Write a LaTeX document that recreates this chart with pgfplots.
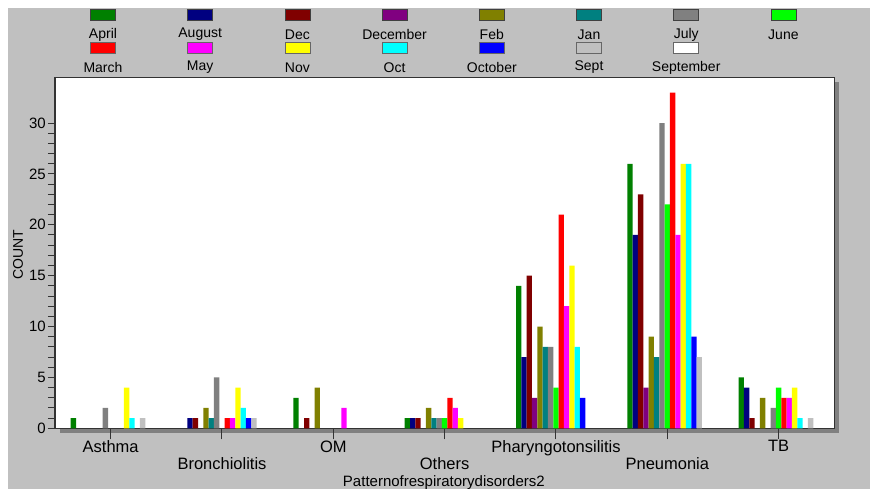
\documentclass[border=0pt]{standalone}
\usepackage{pgfplots}
\pgfplotsset{compat=1.18}
\usepackage{pgfplotstable}
\usepackage{fontspec}
\setmainfont{Liberation Sans}
\definecolor{bg}{HTML}{C0C0C0}
\definecolor{shadowc}{HTML}{808080}
\definecolor{frame}{HTML}{333333}
\definecolor{cApril}{HTML}{008000}
\definecolor{cAugust}{HTML}{000080}
\definecolor{cDec}{HTML}{800000}
\definecolor{cDecember}{HTML}{800080}
\definecolor{cFeb}{HTML}{808000}
\definecolor{cJan}{HTML}{008080}
\definecolor{cJuly}{HTML}{808080}
\definecolor{cJune}{HTML}{00FF00}
\definecolor{cMarch}{HTML}{FF0000}
\definecolor{cMay}{HTML}{FF00FF}
\definecolor{cNov}{HTML}{FFFF00}
\definecolor{cOct}{HTML}{00FFFF}
\definecolor{cOctober}{HTML}{0000FF}
\definecolor{cSept}{HTML}{C0C0C0}
\definecolor{cSeptember}{HTML}{FFFFFF}

\pgfplotstableread{
x April August Dec December Feb Jan July June March May Nov Oct October Sept September
0 1 0 0 0 0 0 2 0 0 0 4 1 0 1 0
1 0 1 1 0 2 1 5 0 1 1 4 2 1 1 0
2 3 0 1 0 4 0 0 0 0 2 0 0 0 0 0
3 1 1 1 0 2 1 1 1 3 2 1 0 0 0 0
4 14 7 15 3 10 8 8 4 21 12 16 8 3 0 0
5 26 19 23 4 9 7 30 22 33 19 26 26 9 7 0
6 5 4 1 0 3 0 2 4 3 3 4 1 0 1 0
}\datatable

\begin{document}
\begin{tikzpicture}
\useasboundingbox (0pt,0pt) rectangle (870pt,489pt);
\fill[bg] (8pt,0pt) rectangle (870pt,481pt);
\fill[shadowc] (60pt,56pt) rectangle (839.3pt,407pt);
\begin{axis}[
  at={(55pt,60.7pt)}, anchor=south west,
  scale only axis, width=779.3pt, height=351pt,
  axis background/.style={fill=white},
  axis line style={draw=frame, line width=1.2pt},
  xmin=-0.5, xmax=6.5, ymin=0, ymax=34.5,
  ybar=0pt, bar width=5.33pt,
  y filter/.expression={y==0 ? nan : y},
  unbounded coords=discard,
  xtick={0,2,4,6},
  xticklabels={Asthma,OM,Pharyngotonsilitis,TB},
  extra x ticks={1,3,5},
  extra x tick labels={Bronchiolitis,Others,Pneumonia},
  extra x tick style={xticklabel style={yshift=-17pt}},
  xtick pos=left, ytick pos=left,
  tick align=outside,
  major tick length=7pt, minor tick length=7pt,
  xtick style={draw=frame, line width=1pt, /pgfplots/major tick length=11pt},
  ytick={0,5,...,30},
  minor y tick num=4,
  ytick style={draw=frame, line width=1pt},
  /pgf/number format/assume math mode=true,
  yticklabel style={font=\fontsize{15}{18}\selectfont, inner sep=2pt},
  xticklabel style={font=\fontsize{16.5}{19}\selectfont, inner sep=1pt, yshift=-4pt},
  xlabel={Patternofrespiratorydisorders2},
  ylabel={COUNT},
  xlabel style={font=\fontsize{15}{18}\selectfont, inner sep=0pt, at={(axis description cs:0.499,-0.1555)}, anchor=center},
  ylabel style={font=\fontsize{14}{17}\selectfont, at={(axis description cs:-0.0475,0.494)}, anchor=center, rotate=0},
  clip=false,
]
\addplot[fill=cApril, draw=none] table[x=x,y=April]{\datatable};
\addplot[fill=cAugust, draw=none] table[x=x,y=August]{\datatable};
\addplot[fill=cDec, draw=none] table[x=x,y=Dec]{\datatable};
\addplot[fill=cDecember, draw=none] table[x=x,y=December]{\datatable};
\addplot[fill=cFeb, draw=none] table[x=x,y=Feb]{\datatable};
\addplot[fill=cJan, draw=none] table[x=x,y=Jan]{\datatable};
\addplot[fill=cJuly, draw=none] table[x=x,y=July]{\datatable};
\addplot[fill=cJune, draw=none] table[x=x,y=June]{\datatable};
\addplot[fill=cMarch, draw=none] table[x=x,y=March]{\datatable};
\addplot[fill=cMay, draw=none] table[x=x,y=May]{\datatable};
\addplot[fill=cNov, draw=none] table[x=x,y=Nov]{\datatable};
\addplot[fill=cOct, draw=none] table[x=x,y=Oct]{\datatable};
\addplot[fill=cOctober, draw=none] table[x=x,y=October]{\datatable};
\addplot[fill=cSept, draw=none] table[x=x,y=Sept]{\datatable};
\addplot[fill=cSeptember, draw=none] table[x=x,y=September]{\datatable};
\end{axis}
% legend
\foreach \n/\c [count=\i from 0, evaluate=\i as \xx using 103+97.2*\i] in
  {April/cApril,August/cAugust,Dec/cDec,December/cDecember,Feb/cFeb,Jan/cJan,July/cJuly,June/cJune}{
  \filldraw[fill=\c, draw=black!75, line width=0.8pt] (\xx pt-12.5pt,468.5pt) rectangle (\xx pt+12.5pt,479.5pt);
  \node[font=\fontsize{14}{16}\selectfont, inner sep=0pt] at (\xx pt,454.5pt) {\n};
}
\foreach \n/\c [count=\i from 0, evaluate=\i as \xx using 103+97.2*\i] in
  {March/cMarch,May/cMay,Nov/cNov,Oct/cOct,October/cOctober,Sept/cSept,September/cSeptember}{
  \filldraw[fill=\c, draw=black!60, line width=0.8pt] (\xx pt-12.5pt,435.3pt) rectangle (\xx pt+12.5pt,446.5pt);
  \node[font=\fontsize{14}{16}\selectfont, inner sep=0pt] at (\xx pt,421.5pt) {\n};
}
\end{tikzpicture}
\end{document}
